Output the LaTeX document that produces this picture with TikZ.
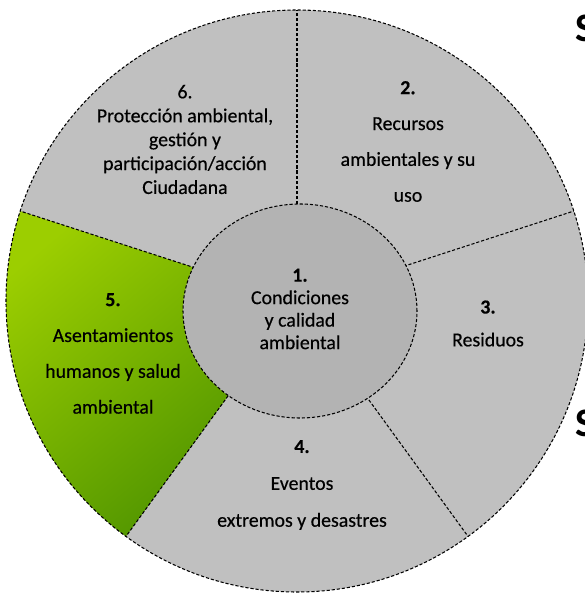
\documentclass[tikz,border=0pt]{standalone}
\usepackage{fontspec}
\setmainfont{Carlito}
\newfontfamily\heavy{Carlito}[FakeBold=0.4]
\definecolor{ringgray}{HTML}{C0C0C0}
\definecolor{coregray}{HTML}{B3B3B3}
\definecolor{greenlight}{HTML}{9CCE00}
\definecolor{greendark}{HTML}{4A9000}
\def\outr{291}
\tikzset{
  rim/.style={draw=black, line width=0.6pt, dash pattern=on 1.8pt off 1.1pt},
  sect/.style={align=center, inner sep=0pt, font=\heavy\fontsize{11.3}{#1}\selectfont},
  sect/.default=20.4,
  cutS/.style={anchor=west, inner sep=0pt, font=\fontsize{23}{23}\selectfont\bfseries}
}
\begin{document}
\begin{tikzpicture}[x=.02cm, y=.02cm]
\useasboundingbox (0,0) rectangle (585,593);
\coordinate (O) at (297,292);
% ring and green sector
\fill[ringgray] (O) circle (\outr);
\shade[top color=greenlight, bottom color=greendark, shading angle=40]
  (O) -- ++(162:\outr) arc[start angle=162, end angle=234, radius=\outr] -- cycle;
\draw[rim] (O) circle (\outr);
\foreach \a in {90,18,-54,-126,162} \draw[rim] (O) -- ++(\a:\outr);
% core
\draw[rim, fill=coregray] (300,282) ellipse (117 and 107);
\node[sect=12.8] (core) at (300,284) {\textbf{1.}\\Condiciones\\y calidad\\ambiental};
\node[sect] (recursos) at (408,451.5) {\textbf{2.}\\Recursos\\ambientales y su\\uso};
\node[sect=18.7] (residuos) at (488,269.5) {\textbf{3.}\\Residuos};
\node[sect=21] (eventos) at (302,108) {\textbf{4.}\\Eventos\\extremos y desastres};
\node[sect] (asentam) at (113,239.5) {\textbf{5.}\\Asentamientos\\humanos y salud\\ambiental};
\node[sect=13.6] (proteccion) at (185,453.5) {6.\\Protección ambiental,\\gestión y\\participación/acción\\Ciudadana};
\node[cutS] (s1) at (575,564.5) {S};
\node[cutS] (s2) at (575,169.5) {S};
\end{tikzpicture}
\end{document}
